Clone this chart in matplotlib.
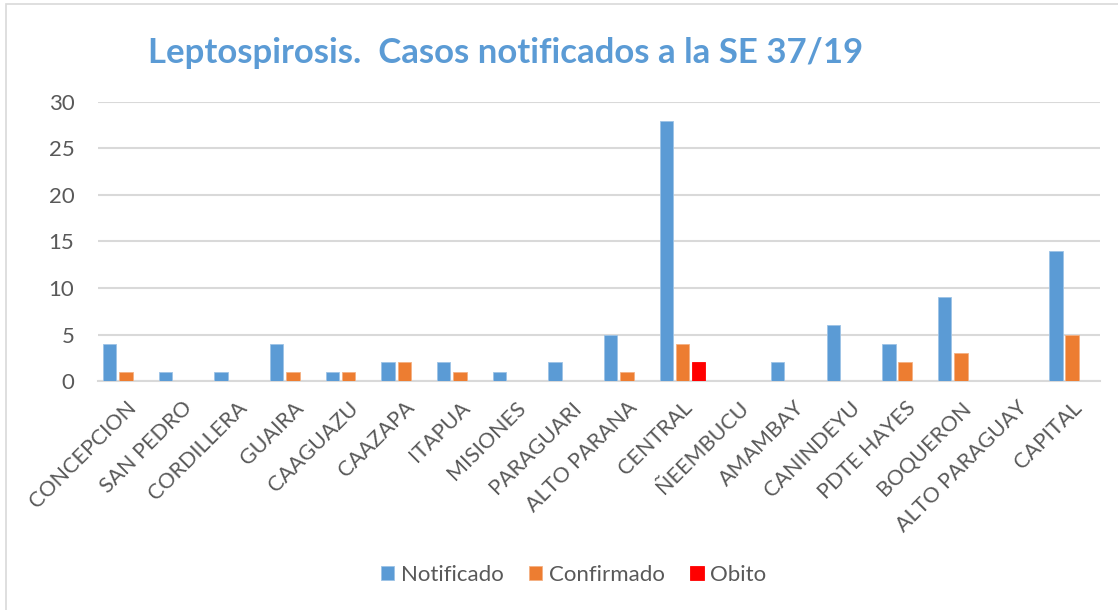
import numpy as np
import matplotlib.pyplot as plt
from matplotlib.patches import Rectangle

departamentos = ["CONCEPCION", "SAN PEDRO", "CORDILLERA", "GUAIRA", "CAAGUAZU", "CAAZAPA",
                 "ITAPUA", "MISIONES", "PARAGUARI", "ALTO PARANA", "CENTRAL", "ÑEEMBUCU",
                 "AMAMBAY", "CANINDEYU", "PDTE HAYES", "BOQUERON", "ALTO PARAGUAY", "CAPITAL"]
notificado = [4, 1, 1, 4, 1, 2, 2, 1, 2, 5, 28, 0, 2, 6, 4, 9, 0, 14]
confirmado = [1, 0, 0, 1, 1, 2, 1, 0, 0, 1, 4, 0, 0, 0, 2, 3, 0, 5]
obito = [0, 0, 0, 0, 0, 0, 0, 0, 0, 0, 2, 0, 0, 0, 0, 0, 0, 0]

plt.rcParams['font.family'] = ['Lato', 'DejaVu Sans']

fig = plt.figure(figsize=(11.18, 6.10), dpi=100)
ax = fig.add_axes([0.0877, 0.3754, 0.8962, 0.4574])

x = np.arange(len(departamentos))
w = 0.24
off = 0.29
ax.bar(x - off, notificado, w, color='#5B9BD5', edgecolor='#9DC3E6', linewidth=0.6, label='Notificado', zorder=3)
ax.bar(x, confirmado, w, color='#ED7D31', edgecolor='#F4B183', linewidth=0.6, label='Confirmado', zorder=3)
ax.bar(x + off, obito, w, color='#FF0000', edgecolor='#FF0000', linewidth=0.6, label='Obito', zorder=3)

ax.set_xlim(-0.5, len(departamentos) - 0.5)
ax.set_ylim(0, 30)
ax.set_yticks(range(0, 31, 5))
ax.yaxis.grid(True, color='#D9D9D9', linewidth=1.5, zorder=0)
for s in ['top', 'right', 'left']:
    ax.spines[s].set_visible(False)
ax.spines['bottom'].set_color('#D9D9D9')
ax.spines['bottom'].set_linewidth(1.5)
ax.tick_params(axis='both', length=0, labelsize=16, colors='#595959')
ax.tick_params(axis='y', pad=17)
ax.set_xticks(x)
ax.set_xticklabels(departamentos, rotation=45, ha='right', rotation_mode='anchor')
ax.tick_params(axis='x', pad=12, labelsize=15.5)

fig.text(0.452, 0.913, "Leptospirosis.  Casos notificados a la SE 37/19", color='#5B9BD5',
         fontsize=25, fontweight='bold', ha='center', va='center')

fig.legend(loc='center', bbox_to_anchor=(0.513, 0.057), ncol=3, frameon=False,
           fontsize=16, handlelength=0.6, handleheight=0.6, handletextpad=0.3,
           columnspacing=1.15, labelcolor='#595959')

fig.patches.append(Rectangle((6 / 1118, -0.1), 1.2, 1 - 4 / 610 + 0.1, transform=fig.transFigure,
                             fill=False, edgecolor='#D9D9D9', linewidth=1.2))

fig.savefig('out.png', dpi=100)
